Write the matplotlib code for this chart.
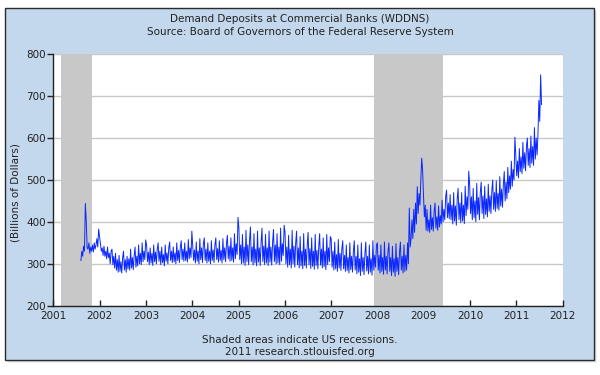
import matplotlib
matplotlib.use("Agg")
import matplotlib.pyplot as plt
from matplotlib.patches import Rectangle
import pandas as pd
from datetime import datetime

# Weekly demand deposits (billions of dollars)
y2001 = [308, 330, 318, 342,
         330, 444, 403, 338,
         335, 350, 325, 340,
         330, 345, 328, 350, 335,
         345, 360, 340, 383, 365]
y2002 = [345, 330, 338, 320,
         342, 318, 330, 312,
         340, 315, 325, 300, 330,
         335, 298, 318, 290,
         325, 285, 310, 280,
         320, 282, 305, 278, 315,
         330, 285, 310, 280,
         318, 288, 312, 285,
         335, 290, 315, 286, 320,
         340, 292, 318, 295,
         345, 300, 325, 298,
         350, 305, 330, 310, 357]
y2003 = [345, 305, 328, 298,
         338, 302, 325, 296,
         345, 305, 328, 300, 335,
         350, 306, 330, 298,
         340, 303, 322, 295,
         345, 306, 326, 300, 338,
         352, 308, 330, 303,
         340, 305, 326, 300,
         350, 308, 332, 303, 340,
         355, 310, 335, 306,
         350, 308, 330, 304,
         358, 312, 338, 315, 378]
y2004 = [345, 308, 333, 302,
         352, 306, 330, 300,
         360, 310, 338, 303, 348,
         362, 308, 335, 302,
         350, 306, 330, 300,
         355, 308, 333, 303, 345,
         362, 310, 336, 304,
         355, 308, 332, 302,
         360, 310, 338, 305, 348,
         368, 312, 342, 306,
         362, 308, 338, 304,
         372, 312, 348, 322, 411]
y2005 = [385, 310, 345, 300,
         370, 302, 340, 296,
         380, 305, 345, 298, 355,
         388, 305, 340, 297,
         372, 302, 335, 295,
         378, 304, 338, 296, 350,
         385, 305, 342, 298,
         370, 302, 338, 296,
         378, 304, 340, 297, 352,
         382, 305, 345, 300,
         372, 302, 340, 298,
         385, 306, 348, 320, 392]
y2006 = [375, 300, 340, 292,
         368, 298, 335, 290,
         380, 300, 342, 292, 350,
         378, 298, 338, 290,
         365, 295, 330, 288,
         372, 296, 335, 290, 345,
         375, 298, 336, 289,
         362, 294, 330, 287,
         370, 296, 332, 288, 342,
         372, 297, 335, 290,
         362, 293, 330, 286,
         370, 298, 338, 305, 365]
y2007 = [360, 292, 330, 285,
         352, 288, 322, 282,
         358, 290, 325, 284, 335,
         355, 288, 320, 282,
         345, 284, 315, 278,
         350, 286, 318, 280, 330,
         355, 285, 318, 276,
         345, 280, 312, 272,
         350, 282, 315, 274, 325,
         352, 283, 318, 276,
         345, 280, 312, 273,
         355, 285, 320, 292, 345]
y2008 = [350, 285, 320, 278,
         345, 282, 315, 275,
         352, 285, 318, 276, 330,
         350, 282, 315, 272,
         342, 280, 312, 270,
         348, 282, 315, 274, 328,
         352, 285, 318, 278,
         345, 282, 320, 285,
         350, 300, 433, 340, 360,
         405, 360, 430, 375,
         445, 395, 484, 420,
         468, 440, 500, 552, 524]
y2009 = [464, 412, 440, 380,
         430, 378, 405, 375,
         440, 382, 410, 378, 425,
         445, 385, 412, 380,
         438, 388, 415, 395,
         452, 400, 430, 405, 460,
         476, 410, 445, 408,
         465, 405, 440, 395,
         470, 402, 438, 392, 455,
         480, 405, 445, 398,
         470, 402, 440, 396,
         485, 415, 460, 430, 521]
y2010 = [490, 420, 460, 405,
         480, 410, 450, 400,
         492, 418, 458, 405, 470,
         495, 420, 462, 408,
         485, 418, 455, 412,
         490, 425, 462, 420, 475,
         500, 430, 470, 425,
         498, 432, 468, 428,
         508, 438, 478, 435, 490,
         520, 450, 495, 455,
         530, 470, 510, 478,
         545, 485, 525, 500, 602]
y2011 = [560, 510, 545, 505,
         575, 520, 555, 515,
         590, 528, 565, 522, 580,
         600, 535, 575, 530,
         605, 540, 580, 535,
         625, 550, 600, 560, 612,
         690, 640, 751, 680]

values = y2001 + y2002 + y2003 + y2004 + y2005 + y2006 + y2007 + y2008 + y2009 + y2010 + y2011
dates = pd.date_range("2001-08-06", periods=len(values), freq="W-MON")

recessions = [("2001-03-01", "2001-11-01"), ("2007-12-01", "2009-06-01")]
year_ticks = list(range(2001, 2013))
y_ticks = [200, 300, 400, 500, 600, 700, 800]

W, H = 600, 375
fig = plt.figure(figsize=(6, 3.75), dpi=100)
fig.patch.set_facecolor("white")

# shadow + panel
for i, a in enumerate([0.10, 0.08, 0.06]):
    off = i + 1
    fig.patches.append(Rectangle(((5 + off) / W, 1 - (360 + off) / H), 589 / W, 352 / H,
                                 transform=fig.transFigure, facecolor="#000000", alpha=a,
                                 edgecolor="none", zorder=0))
fig.patches.append(Rectangle((5 / W, 1 - 360 / H), 589 / W, 352 / H,
                             transform=fig.transFigure, facecolor="#c3d8ec",
                             edgecolor="#2a2a2a", linewidth=1.0, zorder=1))

ax = fig.add_axes([53.4 / W, 1 - 305.7 / H, (562.7 - 53.4) / W, (305.7 - 54.3) / H])
ax.set_facecolor("white")
ax.set_zorder(2)

for s, e in recessions:
    ax.axvspan(pd.Timestamp(s), pd.Timestamp(e), color="#c8c8c8", lw=0, zorder=1)

ax.plot(dates, values, color="#0a28ff", lw=0.7, zorder=3)

ax.set_xlim(datetime(2001, 1, 1), datetime(2012, 1, 1))
ax.set_ylim(200, 800)
ax.set_xticks([datetime(y, 1, 1) for y in year_ticks])
ax.set_xticklabels([str(y) for y in year_ticks])
ax.set_yticks(y_ticks)
ax.set_yticklabels([str(v) for v in y_ticks])
ax.yaxis.grid(True, color="#c8c8c8", lw=1.0, zorder=0.5)
ax.set_axisbelow(True)

for sp in ["top", "right"]:
    ax.spines[sp].set_visible(False)
for sp in ["left", "bottom"]:
    ax.spines[sp].set_color("#222222")
    ax.spines[sp].set_linewidth(1.0)

ax.tick_params(axis="x", direction="in", length=4, width=1, labelsize=7.5,
               colors="#222222", pad=4)
ax.tick_params(axis="y", direction="out", length=4, width=1, labelsize=7.5,
               colors="#222222", pad=1.5)

txt = dict(ha="center", va="center", fontsize=7.5, color="#222222")
fig.text(300 / W, 1 - 19.3 / H, "Demand Deposits at Commercial Banks (WDDNS)", **txt)
fig.text(300 / W, 1 - 31.7 / H, "Source: Board of Governors of the Federal Reserve System", **txt)
fig.text(16 / W, 1 - 193 / H, "(Billions of Dollars)", rotation=90, **txt)
fig.text(300 / W, 1 - 340 / H, "Shaded areas indicate US recessions.", **txt)
fig.text(300 / W, 1 - 351.7 / H, "2011 research.stlouisfed.org", **txt)

fig.savefig("out.png", dpi=100)
